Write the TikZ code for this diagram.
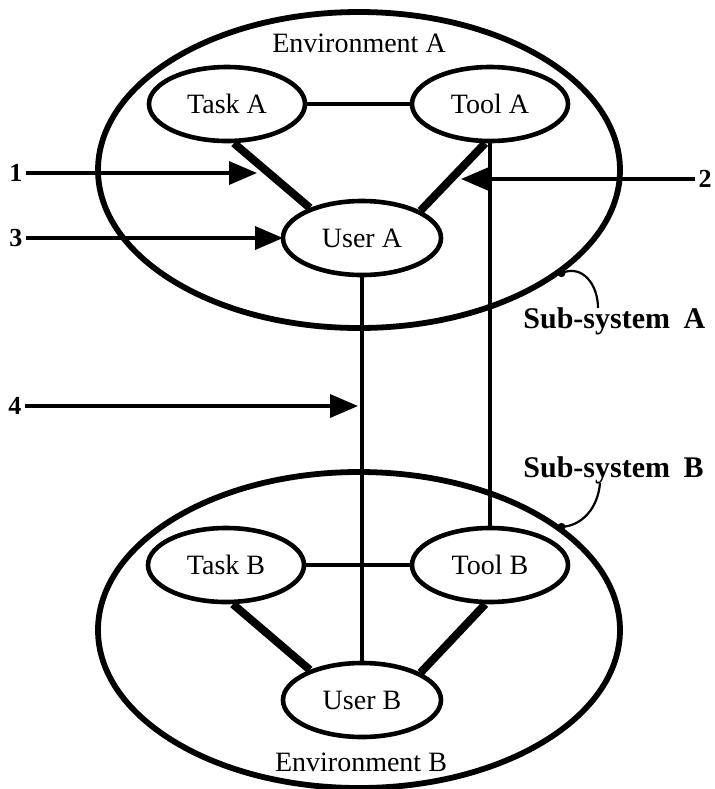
\documentclass[tikz,border=0pt]{standalone}
\usepackage{fontspec}
\setmainfont{Liberation Serif}
\usetikzlibrary{arrows.meta,shapes.geometric}
\begin{document}
\begin{tikzpicture}[x=0.5pt,y=-0.5pt,
  envell/.style={draw,ellipse,line width=2.9pt,minimum width=261pt,minimum height=158pt,inner sep=0pt},
  entity/.style={draw,ellipse,line width=2.3pt,minimum width=78pt,minimum height=37pt,inner sep=0pt,font=\fontsize{14}{16}\selectfont},
  envlabel/.style={font=\fontsize{14}{16}\selectfont,inner sep=0pt},
  sslabel/.style={font=\fontsize{15}{18}\selectfont\bfseries,inner sep=0pt,anchor=base west},
  numlabel/.style={font=\fontsize{13}{15}\selectfont\bfseries,inner sep=1.5pt},
  thicklink/.style={line width=4pt},
  link/.style={line width=2.4pt},
  pointer/.style={line width=1.8pt,-{Triangle[length=14pt,width=11.5pt]}},
  callout/.style={line width=1.1pt},
  dotmark/.style={fill=black}
]
\useasboundingbox (0,0) rectangle (715,789);

% environments
\node[envell] (envA) at (359,170) {};
\node[envell] (envB) at (359,630) {};
\node[envlabel] (labA) at (359,43) {Environment A};
\node[envlabel] (labB) at (361,762) {Environment B};

% entities A
\node[entity] (ta) at (227,104) {Task A};
\node[entity] (tla) at (490,104) {Tool A};
\node[entity,minimum width=79pt] (ua) at (362,238) {User A};
% entities B
\node[entity] (tb) at (226,565) {Task B};
\node[entity] (tlb) at (490,565) {Tool B};
\node[entity,minimum width=79pt] (ub) at (362,700) {User B};

% links A
\draw[link] (ta.east) -- (tla.west);
\draw[thicklink] (ta.-80) -- (ua.150);
\draw[thicklink] (tla.-97) -- (ua.25);
% links B
\draw[link] (tb.east) -- (tlb.west);
\draw[thicklink] (tb.-80) -- (ub.150);
\draw[thicklink] (tlb.-97) -- (ub.25);

% inter-system links
\draw[link] (ua.south) -- (ub.north);
\draw[link] (tla.south) -- (tlb.north);

% numbered pointers
\node[numlabel] (n1) at (16,173) {1};
\node[numlabel] (n2) at (705,179) {2};
\node[numlabel] (n3) at (16,238) {3};
\node[numlabel] (n4) at (15,406) {4};
\coordinate (t1) at (257,173);
\coordinate (t2) at (461,179);
\coordinate (t3) at (283,238);
\coordinate (t4) at (358,406);
\draw[pointer] (n1.east) -- (t1);
\draw[pointer] (n2.west) -- (t2);
\draw[pointer] (n3.east) -- (t3);
\draw[pointer] (n4.east) -- (t4);

% sub-system callouts
\node[sslabel] (ssA) at (523,328) {Sub-system\hspace{0.45em}A};
\node[sslabel] (ssB) at (523,477) {Sub-system\hspace{0.45em}B};
\coordinate (dA) at (envA.-27.5);
\coordinate (dB) at (envB.27.7);
\coordinate (cA) at (598,308);
\coordinate (cB) at (600,483);
\fill[dotmark] (dA) circle[radius=2pt];
\fill[dotmark] (dB) circle[radius=2pt];
\draw[callout] (dA) .. controls (582,264) and (598,284) .. (cA);
\draw[callout] (cB) .. controls (598,508) and (582,526) .. (dB);
\end{tikzpicture}
\end{document}
